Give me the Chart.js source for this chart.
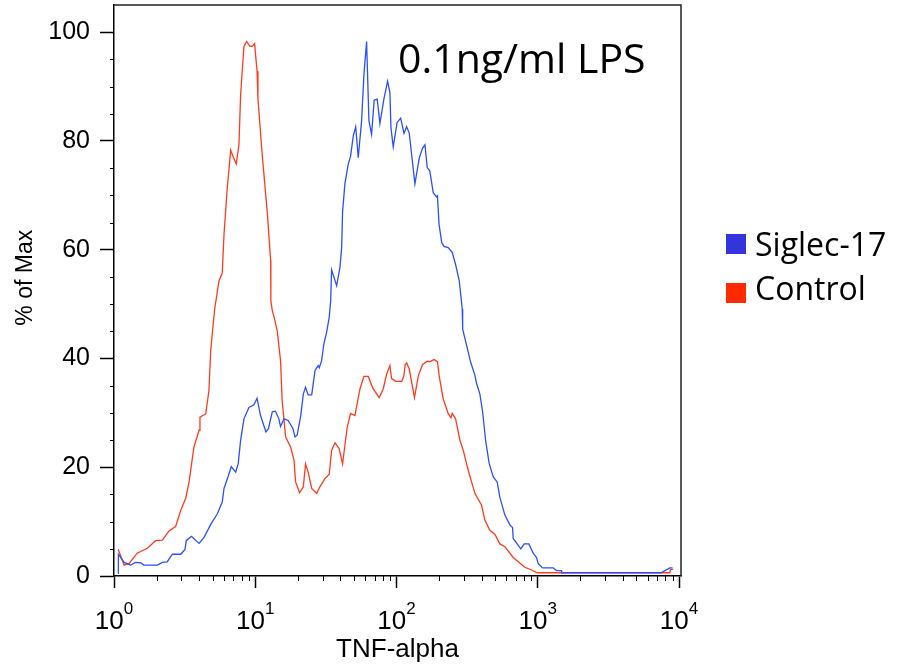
<!DOCTYPE html>
<html>
<head>
<meta charset="utf-8">
<script src="https://cdn.jsdelivr.net/npm/chart.js@4.4.1/dist/chart.umd.min.js"></script>
<style>
  html, body { margin: 0; padding: 0; background: #fff; }
</style>
</head>
<body>
<canvas id="histo" width="911" height="670"></canvas>
<script>
// values (TNF-alpha intensity, % of max)
const siglecX = [1.07,1.074,1.18,1.31,1.42,1.55,1.63,2.03,2.2,2.38,
  2.59,2.97,3.18,3.25,3.53,4.0,4.34,4.84,5.38,5.84,
  6.01,6.41,6.76,7.27,7.58,7.88,8.32,9.02,9.79,10.3,
  10.9,11.9,12.4,13.2,13.9,14.7,15.1,16.0,17.1,18.5,
  19.1,19.8,21.0,21.9,22.7,23.7,25.1,26.5,27.9,28.4,
  29.5,30.6,32.0,33.4,34.2,34.7,37.7,39.8,40.9,41.5,
  43.1,45.5,47.3,49.4,51.4,53.6,56.6,58.8,61.4,63.8,
  66.6,69.5,73.0,76.3,81.4,86.5,89.8,91.3,94.8,101,
  107,113,118,123,135,145,153,159,165,172,
  182,192,195,200,209,217,232,248,263,278,
  292,294,313,335,359,369,389,407,429,453,
  484,516,539,585,635,663,670,715,759,801,
  865,928,981,1006,1081,1285,1358,1474,1476,7460,
  8610,9000];
const siglecY = [0.5,4.0,2.5,2.0,2.5,2.4,2.0,2.0,2.5,2.6,
  4.0,4.0,4.9,6.5,7.3,6.0,7.1,9.5,11.4,13.6,
  16.1,18.2,20.1,19.1,20.7,25.0,28.9,31.0,31.5,32.7,
  29.5,26.5,27.1,30.2,30.3,28.9,27.5,28.9,28.6,27.1,
  25.6,25.9,29.5,33.5,34.7,33.3,33.3,37.8,38.7,38.3,
  39.6,42.7,44.8,47.6,50.6,56.3,53.4,56.8,60.4,66.9,
  72.1,75.7,77.2,80.9,82.6,76.9,83.7,92.2,98.3,83.7,
  81.2,87.5,87.7,83.2,87.7,91.0,88.9,82.5,78.9,83.4,
  84.2,81.4,82.6,81.5,72.1,76.9,78.7,79.3,75.1,74.5,
  70.5,69.7,69.9,64.7,61.3,60.6,60.4,59.5,57.1,54.3,
  49.1,45.4,42.5,39.3,36.9,35.4,33.5,30.2,24.6,20.7,
  18.2,17.3,14.5,11.2,9.4,8.9,6.9,5.9,5.0,5.9,
  5.9,4.2,3.4,2.3,1.5,1.5,1.0,1.0,0.6,0.6,
  1.5,1.5];

const controlX = [1.07,1.18,1.28,1.46,1.72,1.97,2.2,2.45,2.73,2.97,
  3.22,3.4,3.68,4.0,4.06,4.46,4.7,4.84,5.16,5.54,
  5.84,6.01,6.34,6.7,6.95,7.34,7.67,7.88,8.32,8.69,
  9.17,9.52,9.9,10.3,10.45,11.2,12.2,12.85,12.9,13.2,
  13.6,14.3,15.1,15.5,16.4,17.8,18.8,19.3,20.6,21.9,
  22.7,23.7,25.1,27.2,28.7,31.1,33.4,34.7,36.7,39.3,
  41.5,44.8,47.3,50.8,55.1,58.8,63.1,67.8,75.4,80.5,
  85.1,89.8,92.3,99,109,113,115,118,123,134,
  143,153,165,172,184,195,201,214,232,243,
  248,262,281,297,322,359,400,422,458,497,
  539,585,670,768,811,904,990,8610,8710,9090];
const controlY = [4.9,2.0,2.3,4.2,5.1,6.5,6.6,8.3,9.1,12.1,
  14.3,17.3,23.7,26.8,29.2,29.8,34.1,41.5,49.1,54.3,
  55.7,62.9,71.4,78.3,77.2,75.8,79.4,88.6,97.4,98.3,
  97.4,97.4,97.9,92.8,87.7,77.5,66.5,58,50.6,48.8,
  47.6,45.1,39.6,32.3,25.6,23.7,21.3,17.3,15.3,16.4,
  20.6,19.1,16.1,15.2,16.4,17.9,18.7,23.1,24.5,23.4,
  20.6,27.4,29.9,29.5,34.4,36.7,36.7,34.6,32.8,34.4,
  37.1,38.7,36.3,35.8,35.8,36.9,38.8,39.2,38.1,32.8,
  36.9,38.9,39.5,39.4,39.8,39.4,36.6,32.6,29.9,29.1,
  29.9,28.9,25.0,23.1,19.4,15.2,13.0,10.3,8.4,7.7,
  5.9,5.4,3.4,2.1,1.6,1.1,0.6,0.6,1.2,1.2];

const xMajorTicks = [1, 10, 100, 1000, 10000];
const xTickExponents = ['0', '1', '2', '3', '4'];
const xMinorTicks = [2,3,4,5,6,7,8,9, 20,30,40,50,60,70,80,90,
  200,300,400,500,600,700,800,900, 2000,3000,4000,5000,6000,7000,8000,9000];
const yMajorTicks = [0, 20, 40, 60, 80, 100];
const yMinorTicks = [5,10,15, 25,30,35, 45,50,55, 65,70,75, 85,90,95];

const seriesNames = ['Siglec-17', 'Control'];
const lineColors = ['#2a4fff', '#ff3b1e'];
const legendColors = ['#3434dc', '#ff2a00'];
const panelTitle = '0.1ng/ml LPS';

const arial = '"Liberation Sans", Arial, sans-serif';
const calibriLike = '"Open Sans", sans-serif';

const toPoints = (xs, ys) => xs.map((v, i) => ({ x: v, y: ys[i] }));

const extras = {
  id: 'extras',
  afterDraw(chart) {
    const { ctx, chartArea: a, scales: { x, y } } = chart;
    ctx.save();
    // top and right sides of the plot frame
    ctx.strokeStyle = '#222';
    ctx.lineWidth = 1.5;
    ctx.beginPath();
    ctx.moveTo(a.left, a.top);
    ctx.lineTo(a.right, a.top);
    ctx.lineTo(a.right, a.bottom);
    ctx.stroke();

    // minor ticks
    ctx.strokeStyle = '#000';
    ctx.lineWidth = 1;
    ctx.beginPath();
    xMinorTicks.forEach(v => {
      const px = Math.round(x.getPixelForValue(v)) + 0.5;
      ctx.moveTo(px, a.bottom);
      ctx.lineTo(px, a.bottom + 5);
    });
    yMinorTicks.forEach(v => {
      const py = Math.round(y.getPixelForValue(v)) + 0.5;
      ctx.moveTo(a.left - 4, py);
      ctx.lineTo(a.left, py);
    });
    ctx.stroke();

    // x tick labels, 10 with a raised exponent
    ctx.fillStyle = '#000';
    ctx.textAlign = 'left';
    ctx.textBaseline = 'alphabetic';
    xMajorTicks.forEach((v, i) => {
      const px = x.getPixelForValue(v);
      ctx.font = '26px ' + arial;
      const wb = ctx.measureText('10').width;
      ctx.font = '17px ' + arial;
      const we = ctx.measureText(xTickExponents[i]).width;
      const sx = px - (wb + we) / 2;
      ctx.font = '26px ' + arial;
      ctx.fillText('10', sx, a.bottom + 53);
      ctx.font = '17px ' + arial;
      ctx.fillText(xTickExponents[i], sx + wb, a.bottom + 38);
    });

    // panel title inside the plot
    ctx.font = '41px ' + calibriLike;
    ctx.fillText(panelTitle, 398, 73);

    // legend
    ctx.font = '32px ' + calibriLike;
    seriesNames.forEach((name, i) => {
      ctx.fillStyle = legendColors[i];
      ctx.fillRect(726, 234 + i * 49, 20, 20);
      ctx.fillStyle = '#000';
      ctx.fillText(name, 755, 256 + i * 44);
    });
    ctx.restore();
  }
};

const noEdgePadding = s => { s.paddingTop = 0; s.paddingBottom = 0; s.paddingLeft = 0; s.paddingRight = 0; };

new Chart(document.getElementById('histo'), {
  type: 'line',
  data: {
    datasets: [
      { label: seriesNames[0], data: toPoints(siglecX, siglecY), borderColor: lineColors[0], borderWidth: 1.3, pointRadius: 0, tension: 0, fill: false },
      { label: seriesNames[1], data: toPoints(controlX, controlY), borderColor: lineColors[1], borderWidth: 1.3, pointRadius: 0, tension: 0, fill: false }
    ]
  },
  options: {
    responsive: false,
    animation: false,
    events: [],
    layout: { padding: { top: 5, right: 230, left: 0, bottom: 0 } },
    plugins: { legend: { display: false }, tooltip: { enabled: false } },
    scales: {
      x: {
        type: 'logarithmic',
        min: 1,
        max: 10330,
        afterBuildTicks: s => { s.ticks = xMajorTicks.map(v => ({ value: v })); },
        afterFit: s => { s.height = 94; noEdgePadding(s); },
        grid: { drawOnChartArea: false, tickLength: 12, tickColor: '#000', tickWidth: 1.5 },
        border: { color: '#000', width: 1.5 },
        ticks: { display: false },
        title: { display: true, text: 'TNF-alpha', color: '#000', font: { family: arial, size: 26 }, padding: { bottom: 5 } }
      },
      y: {
        type: 'linear',
        min: 0,
        max: 105,
        afterBuildTicks: s => { s.ticks = yMajorTicks.map(v => ({ value: v })); },
        afterFit: s => { s.width = 114; noEdgePadding(s); },
        grid: { drawOnChartArea: false, tickLength: 14, tickColor: '#000', tickWidth: 1.5 },
        border: { color: '#000', width: 1.5 },
        ticks: { color: '#000', padding: 10, font: { family: arial, size: 25 } },
        title: { display: true, text: '    % of Max', color: '#000', font: { family: arial, size: 23 }, padding: { top: 12 } }
      }
    }
  },
  plugins: [extras]
});
</script>
</body>
</html>
